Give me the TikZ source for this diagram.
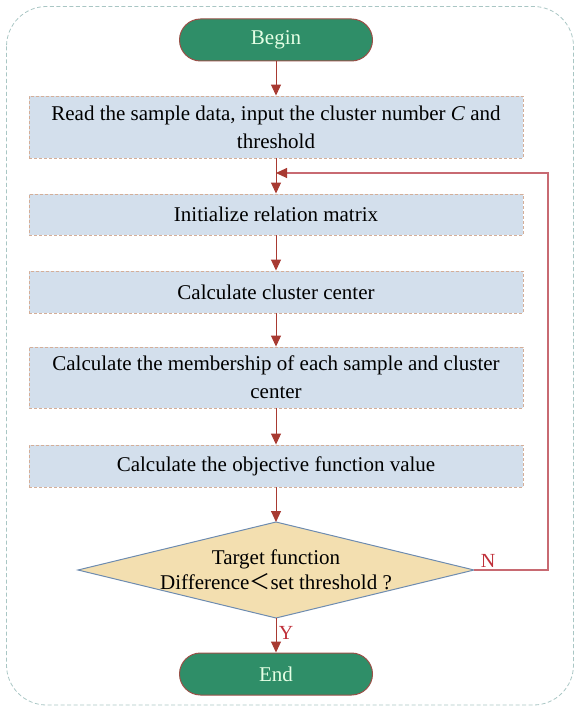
\documentclass[tikz,border=0pt]{standalone}
\usepackage{fontspec}
\setmainfont{Liberation Serif}
\newfontfamily\cjk{Noto Sans CJK SC}
\usetikzlibrary{arrows.meta,shapes.geometric,calc}
\definecolor{boxfill}{HTML}{D3DFEC}
\definecolor{boxline}{HTML}{D4AE98}
\definecolor{termfill}{HTML}{2F8E68}
\definecolor{termline}{HTML}{9A5048}
\definecolor{arrowc}{HTML}{A83A32}
\definecolor{loopc}{HTML}{C86A72}
\definecolor{diafill}{HTML}{F3DFB0}
\definecolor{dialine}{HTML}{6E8CB0}
\definecolor{outerc}{HTML}{A9C6C4}
\definecolor{labc}{HTML}{C0303A}
\begin{document}
\begin{tikzpicture}[x=1pt,y=-1pt,
  every node/.style={font=\fontsize{21}{28}\selectfont},
  procbox/.style={draw=boxline,fill=boxfill,dashed,dash pattern=on 3pt off 2pt,line width=0.9pt,minimum width=494pt,align=center,inner sep=0pt},
  term/.style={draw=termline,fill=termfill,line width=1pt,rounded corners=21pt,minimum width=193pt,minimum height=42pt,text=white!90!green,inner sep=0pt},
  flow/.style={draw=arrowc,line width=1pt,-{Triangle[length=11pt,width=10pt]}},
  loopline/.style={draw=loopc,line width=1.2pt},
  lab/.style={text=labc,inner sep=0pt,font=\fontsize{20}{24}\selectfont}]
\useasboundingbox (0,0) rectangle (576,708);
\draw[outerc,dashed,dash pattern=on 4pt off 2.5pt,line width=0.8pt,rounded corners=40pt] (6.5,6.5) rectangle (573.5,705);
\node[term] (begin) at (276,40) {Begin};
\node[procbox,minimum height=62pt] (b1) at (276,127) {Read the sample data, input the cluster number \textit{C} and\\threshold};
\node[procbox,minimum height=41pt] (b2) at (276,214.5) {Initialize relation matrix};
\node[procbox,minimum height=42pt] (b3) at (276,292) {Calculate cluster center};
\node[procbox,minimum height=61pt] (b4) at (276,377.5) {Calculate the membership of each sample and cluster\\center};
\node[procbox,minimum height=42pt] (b5) at (276,466) {Calculate the objective function value};
\path[draw=dialine,fill=diafill,line width=1pt] (276,522) coordinate (dt) -- (474,570) coordinate (dr) -- (276,618) coordinate (db) -- (78,570) coordinate (dl) -- cycle;
\node[align=center,inner sep=0pt,font=\fontsize{21}{25}\selectfont] (dtext) at (276,570) {Target function\\Difference{\cjk ＜}set threshold ?};
\node[term] (end) at (276,674) {End};
\coordinate (j) at (276,173);
\coordinate (rc) at (548,570);
\draw[flow] (begin.south) -- (b1.north);
\draw[flow] (b1.south) -- (b2.north);
\draw[flow] (b2.south) -- (b3.north);
\draw[flow] (b3.south) -- (b4.north);
\draw[flow] (b4.south) -- (b5.north);
\draw[flow] (b5.south) -- (dt);
\draw[flow] (db) -- (end.north);
\draw[loopline] (dr) -- (rc) -- (rc |- j) -- ($(j)+(3,0)$);
\draw[flow] ($(j)+(4,0)$) -- (j);
\node[lab] (nlab) at (488,561) {N};
\node[lab] (ylab) at (286,633) {Y};
\end{tikzpicture}
\end{document}
